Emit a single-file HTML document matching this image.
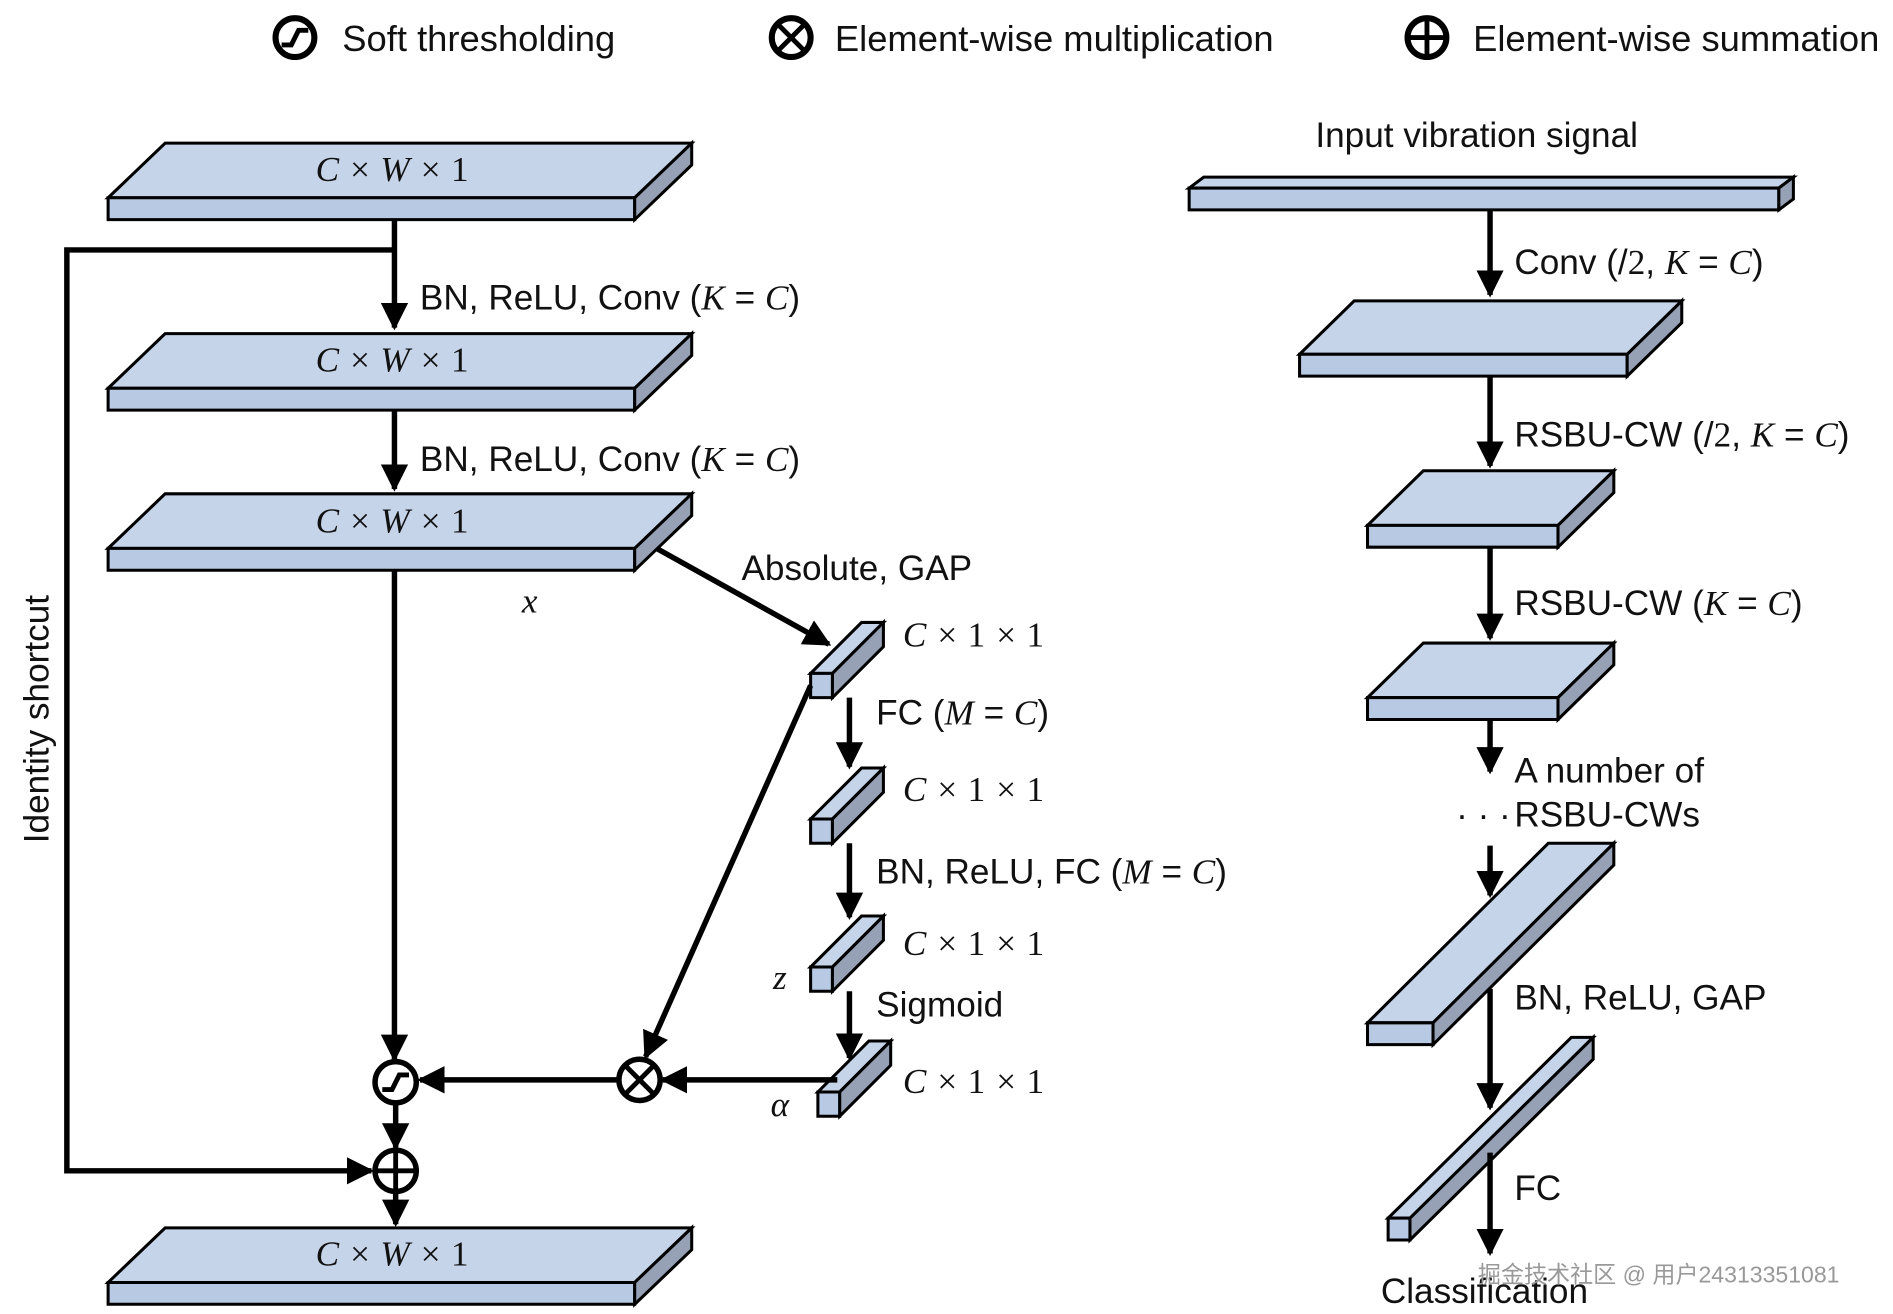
<!DOCTYPE html>
<html><head><meta charset="utf-8"><style>html,body{margin:0;padding:0;background:#fff}svg{display:block}
text{font-family:"Liberation Sans",sans-serif;font-size:29px;fill:#111}
.m{font-family:"Liberation Serif",serif;font-style:italic;font-size:29px}
.u{font-family:"Liberation Serif",serif;font-style:normal}
.t{fill:#c6d4e9;stroke:#000;stroke-width:2.5}.f{fill:#b7c9e3;stroke:#000;stroke-width:2.5}.s{fill:#97a1b6;stroke:#000;stroke-width:2.5}
.l{stroke:#000;stroke-width:4.5;fill:none}
</style></head><body>
<svg width="1893" height="1314" viewBox="0 0 1560 1083" xmlns="http://www.w3.org/2000/svg">
<defs><marker id="a" markerWidth="5" markerHeight="5" refX="4.5" refY="2.5" orient="auto" markerUnits="strokeWidth"><path d="M0,0 L5,2.5 L0,5 z" fill="#000"/></marker></defs>
<!-- legend -->
<g class="l"><circle cx="243" cy="31" r="16" stroke-width="5"/><path d="M232,37 L240,37 L246,25 L254,25" stroke-width="4"/>
<circle cx="652" cy="31" r="16" stroke-width="5"/><path d="M641,20 L663,42 M663,20 L641,42" stroke-width="4"/>
<circle cx="1176" cy="31" r="16" stroke-width="5"/><path d="M1160,31 L1192,31 M1176,15 L1176,47" stroke-width="4"/></g>
<text x="282" y="42" style="font-size:30px">Soft thresholding</text><text x="688" y="42" style="font-size:30px">Element-wise multiplication</text><text x="1214" y="42" style="font-size:30px">Element-wise summation</text>
<!-- left slabs -->
<g id="s1"><polygon class="t" points="89,163 523,163 570,118 136,118"/><polygon class="f" points="89,163 523,163 523,181 89,181"/><polygon class="s" points="523,163 570,118 570,136 523,181"/></g>
<use href="#s1" y="157"/><use href="#s1" y="289"/><use href="#s1" y="894"/>
<text class="m" x="260" y="149">C × W × <tspan class="u">1</tspan></text><text class="m" x="260" y="306">C × W × <tspan class="u">1</tspan></text><text class="m" x="260" y="439">C × W × <tspan class="u">1</tspan></text><text class="m" x="260" y="1043">C × W × <tspan class="u">1</tspan></text>
<!-- small bars -->
<g id="b1"><polygon class="t" points="668,555 686,555 728,513 710,513"/><polygon class="f" points="668,555 686,555 686,575 668,575"/><polygon class="s" points="686,555 728,513 728,533 686,575"/></g>
<use href="#b1" y="120"/><use href="#b1" y="242"/><use href="#b1" x="6" y="345"/>
<!-- left arrows -->
<path class="l" d="M325,181 L325,270" marker-end="url(#a)"/>
<path class="l" d="M325,206 L55,206 L55,965 L306,965" marker-end="url(#a)"/>
<path class="l" d="M325,338 L325,403" marker-end="url(#a)"/>
<path class="l" d="M325,470 L325,873" marker-end="url(#a)"/>
<path class="l" d="M541,452 L683,531" marker-end="url(#a)"/>
<path class="l" d="M700,575 L700,632" marker-end="url(#a)"/>
<path class="l" d="M700,695 L700,756" marker-end="url(#a)"/>
<path class="l" d="M700,817 L700,872" marker-end="url(#a)"/>
<path class="l" d="M690,890 L546,890" marker-end="url(#a)"/>
<path class="l" d="M510,890 L346,890" marker-end="url(#a)"/>
<path class="l" d="M668,565 L532,871" marker-end="url(#a)"/>
<path class="l" d="M326,910 L326,946" marker-end="url(#a)"/>
<path class="l" d="M326,983 L326,1009" marker-end="url(#a)"/>
<g class="l" stroke-width="5"><circle cx="326" cy="892" r="17" fill="#fff"/><path d="M315,898 L323,898 L329,886 L337,886" stroke-width="4"/>
<circle cx="527" cy="890" r="17" fill="#fff"/><path d="M515,878 L539,902 M539,878 L515,902" stroke-width="4"/>
<circle cx="326" cy="965" r="17" fill="#fff"/><path d="M309,965 L343,965 M326,948 L326,982" stroke-width="4"/></g>
<text x="346" y="255">BN, ReLU, Conv (<tspan class="m">K</tspan> = <tspan class="m">C</tspan>)</text>
<text x="346" y="388">BN, ReLU, Conv (<tspan class="m">K</tspan> = <tspan class="m">C</tspan>)</text>
<text class="m" x="430" y="505">x</text>
<text x="611" y="478">Absolute, GAP</text>
<text class="m" x="744" y="533">C × <tspan class="u">1</tspan> × <tspan class="u">1</tspan></text><text class="m" x="744" y="660">C × <tspan class="u">1</tspan> × <tspan class="u">1</tspan></text><text class="m" x="744" y="787">C × <tspan class="u">1</tspan> × <tspan class="u">1</tspan></text><text class="m" x="744" y="901">C × <tspan class="u">1</tspan> × <tspan class="u">1</tspan></text>
<text x="722" y="597">FC (<tspan class="m">M</tspan> = <tspan class="m">C</tspan>)</text>
<text x="722" y="728">BN, ReLU, FC (<tspan class="m">M</tspan> = <tspan class="m">C</tspan>)</text>
<text x="722" y="838">Sigmoid</text>
<text class="m" x="637" y="815">z</text><text class="m" x="635" y="920">α</text>
<text transform="translate(40,695) rotate(-90)">Identity shortcut</text>
<!-- right -->
<text x="1084" y="121">Input vibration signal</text>
<polygon class="t" points="980,155 1466,155 1478,146 992,146"/><polygon class="f" points="980,155 1466,155 1466,173 980,173"/><polygon class="s" points="1466,155 1478,146 1478,164 1466,173"/>
<polygon class="t" points="1071,292 1341,292 1386,248 1116,248"/><polygon class="f" points="1071,292 1341,292 1341,310 1071,310"/><polygon class="s" points="1341,292 1386,248 1386,266 1341,310"/>
<g id="r2"><polygon class="t" points="1127,433 1284,433 1330,388 1173,388"/><polygon class="f" points="1127,433 1284,433 1284,451 1127,451"/><polygon class="s" points="1284,433 1330,388 1330,406 1284,451"/></g>
<use href="#r2" y="142"/>
<path class="l" d="M1228,173 L1228,243" marker-end="url(#a)"/>
<path class="l" d="M1228,310 L1228,384" marker-end="url(#a)"/>
<path class="l" d="M1228,451 L1228,526" marker-end="url(#a)"/>
<path class="l" d="M1228,593 L1228,636" marker-end="url(#a)"/>
<path class="l" d="M1228,697 L1228,738" marker-end="url(#a)"/>
<polygon class="t" points="1127,843 1181,843 1330,695 1276,695"/><polygon class="f" points="1127,843 1181,843 1181,861 1127,861"/><polygon class="s" points="1181,843 1330,695 1330,713 1181,861"/>
<path class="l" d="M1228,815 L1228,913" marker-end="url(#a)"/>
<polygon class="t" points="1144,1004 1162,1004 1313,855 1295,855"/><polygon class="f" points="1144,1004 1162,1004 1162,1022 1144,1022"/><polygon class="s" points="1162,1004 1313,855 1313,873 1162,1022"/>
<path class="l" d="M1228,950 L1228,1033" marker-end="url(#a)"/>
<text x="1248" y="226">Conv (/<tspan class="u">2</tspan>, <tspan class="m">K</tspan> = <tspan class="m">C</tspan>)</text>
<text x="1248" y="368">RSBU-CW (/<tspan class="u">2</tspan>, <tspan class="m">K</tspan> = <tspan class="m">C</tspan>)</text>
<text x="1248" y="507">RSBU-CW (<tspan class="m">K</tspan> = <tspan class="m">C</tspan>)</text>
<text x="1248" y="645">A number of</text><text x="1200" y="681">· · ·</text><text x="1248" y="681">RSBU-CWs</text>
<text x="1248" y="832">BN, ReLU, GAP</text>
<text x="1248" y="989">FC</text>
<text x="1138" y="1074">Classification</text>
<text x="1218" y="1057" style="font-size:19px;fill:#999">掘金技术社区 @ 用户24313351081</text>
</svg>
</body></html>
